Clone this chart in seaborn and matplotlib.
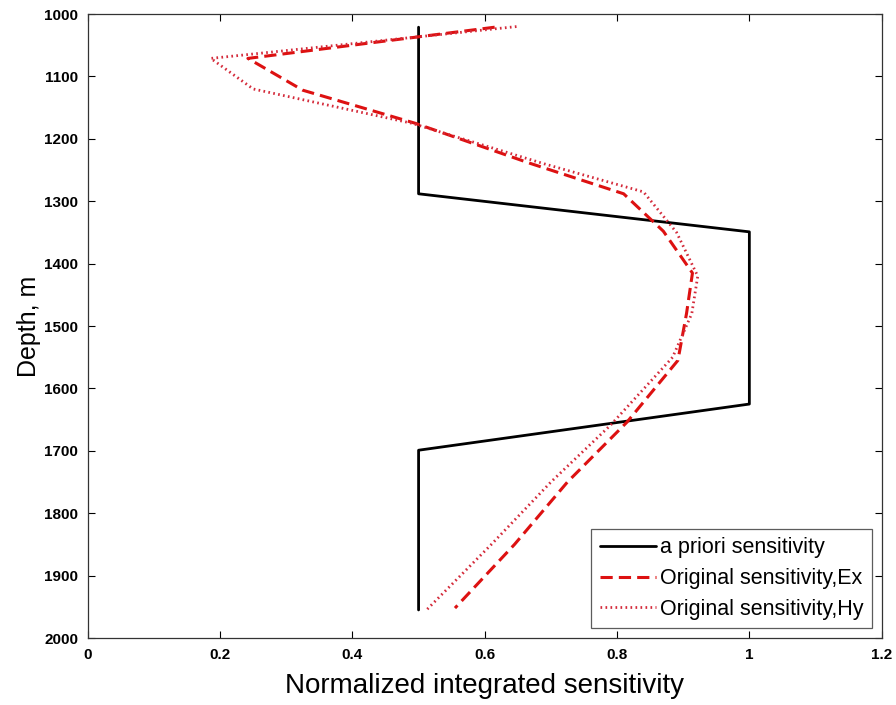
import matplotlib
matplotlib.use("Agg")
import matplotlib.pyplot as plt
import seaborn as sns

# a priori sensitivity
apriori_depth = [1021, 1288, 1349, 1625, 1699, 1955]
apriori_val = [0.5, 0.5, 1.0, 1.0, 0.5, 0.5]

# Original sensitivity, Ex
ex_depth = [1021, 1071, 1122, 1175, 1239, 1288, 1348, 1415, 1480, 1555, 1654, 1750, 1850, 1952]
ex_val = [0.615, 0.242, 0.325, 0.495, 0.668, 0.81, 0.87, 0.914, 0.905, 0.892, 0.815, 0.725, 0.645, 0.555]

# Original sensitivity, Hy
hy_depth = [1020, 1071, 1120, 1175, 1240, 1285, 1350, 1420, 1480, 1550, 1659, 1750, 1850, 1955]
hy_val = [0.648, 0.186, 0.25, 0.49, 0.69, 0.84, 0.89, 0.922, 0.913, 0.884, 0.79, 0.70, 0.61, 0.512]

x_ticks = [0, 0.2, 0.4, 0.6, 0.8, 1, 1.2]
y_ticks = [1000, 1100, 1200, 1300, 1400, 1500, 1600, 1700, 1800, 1900, 2000]

sns.set_style("white")
plt.rcParams['font.family'] = ['Liberation Sans', 'DejaVu Sans']
plt.rcParams['text.color'] = 'black'
plt.rcParams['axes.labelcolor'] = 'black'

fig = plt.figure(figsize=(8.96, 7.05), dpi=100)
ax = fig.add_axes([0.098, 0.095, 0.886, 0.885])

sns.lineplot(x=apriori_val, y=apriori_depth, sort=False, estimator=None, ax=ax,
             color='black', linewidth=2.0, label='a priori sensitivity')
sns.lineplot(x=ex_val, y=ex_depth, sort=False, estimator=None, ax=ax,
             color='#dd1111', linewidth=2.2, linestyle=(0, (4, 2)), label='Original sensitivity,Ex')
sns.lineplot(x=hy_val, y=hy_depth, sort=False, estimator=None, ax=ax,
             color='#d42a3a', linewidth=2.0, linestyle=(0, (0.6, 1.2)), label='Original sensitivity,Hy')

ax.set_xlim(0, 1.2)
ax.set_ylim(2000, 1000)
ax.set_xticks(x_ticks)
ax.set_xticklabels([f"{t:g}" for t in x_ticks])
ax.set_yticks(y_ticks)
ax.set_yticklabels([str(t) for t in y_ticks])
ax.tick_params(direction='in', length=5, width=0.8, top=True, right=True,
               bottom=True, left=True, labelsize=11, colors='black', pad=7)
for lab in ax.get_xticklabels() + ax.get_yticklabels():
    lab.set_fontweight('bold')
for sp in ax.spines.values():
    sp.set_color('#333333')
    sp.set_linewidth(0.9)

ax.set_xlabel('Normalized integrated sensitivity', fontsize=20, labelpad=8, color='black')
ax.set_ylabel('Depth, m', fontsize=18, labelpad=2, color='black')

leg = ax.legend(loc='lower right', fontsize=15.5, frameon=True, fancybox=False,
                edgecolor='#333333', handlelength=2.6, handletextpad=0.2,
                borderpad=0.4, labelspacing=0.45, borderaxespad=0.45)
leg.get_frame().set_linewidth(0.9)
for t in leg.get_texts():
    t.set_color('black')

fig.savefig('out.png', dpi=100)
